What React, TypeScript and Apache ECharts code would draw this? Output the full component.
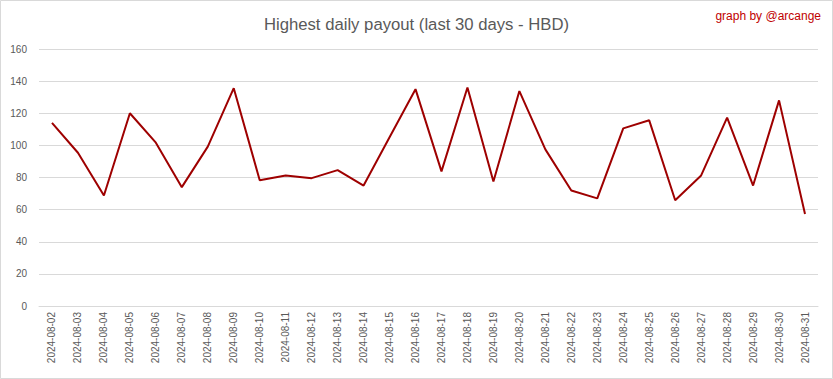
import React, { useEffect, useRef } from "react";
import * as echarts from "echarts";

const dates = [
  "2024-08-02","2024-08-03","2024-08-04","2024-08-05","2024-08-06","2024-08-07",
  "2024-08-08","2024-08-09","2024-08-10","2024-08-11","2024-08-12","2024-08-13",
  "2024-08-14","2024-08-15","2024-08-16","2024-08-17","2024-08-18","2024-08-19",
  "2024-08-20","2024-08-21","2024-08-22","2024-08-23","2024-08-24","2024-08-25",
  "2024-08-26","2024-08-27","2024-08-28","2024-08-29","2024-08-30","2024-08-31",
];
const payouts = [
  114, 95.4, 68.8, 120, 101.7, 74, 99.2, 135.6, 78.3, 81.3, 79.6, 84.6,
  75, 105, 135, 83.8, 136, 77.5, 133.8, 97.5, 71.9, 67, 110.6, 115.6,
  65.8, 81.3, 117.3, 75, 128, 57.3,
];
const yTicks = { min: 0, max: 160, interval: 20 };

export default function App() {
  const ref = useRef<HTMLDivElement>(null);
  useEffect(() => {
    document.body.style.margin = "0";
    const chart = echarts.init(ref.current!, null, { renderer: "svg" });
    const font = "Liberation Sans";
    chart.setOption({
      animation: false,
      backgroundColor: "#ffffff",
      textStyle: { fontFamily: font },
      title: [
        {
          text: "Highest daily payout (last 30 days - HBD)",
          left: "center",
          top: 11,
          textStyle: { fontFamily: font, fontSize: 16.7, fontWeight: "normal", color: "#595959" },
        },
      ],
      graphic: [
        {
          type: "rect",
          shape: { x: 0.5, y: 0.5, width: 832, height: 378 },
          style: { fill: "none", stroke: "#d9d9d9", lineWidth: 1 },
          silent: true,
        },
        {
          type: "text",
          right: 12,
          top: 10,
          style: { text: "graph by @arcange", fill: "#c00000", fontSize: 12, fontFamily: font },
        },
      ],
      grid: { left: 39, right: 15, top: 49, bottom: 73, containLabel: false },
      xAxis: {
        type: "category",
        data: dates,
        boundaryGap: true,
        axisLine: { show: true, lineStyle: { color: "#d9d9d9" } },
        axisTick: { show: false },
        axisLabel: { rotate: 90, color: "#595959", fontSize: 10, margin: 6, interval: 0, fontFamily: font },
      },
      yAxis: {
        type: "value",
        min: yTicks.min,
        max: yTicks.max,
        interval: yTicks.interval,
        axisLine: { show: false },
        axisTick: { show: false },
        splitLine: { lineStyle: { color: "#d9d9d9" } },
        axisLabel: { color: "#595959", fontSize: 10, margin: 12, fontFamily: font },
      },
      series: [
        {
          type: "line",
          data: payouts,
          symbol: "none",
          lineStyle: { color: "#9e0000", width: 2 },
          itemStyle: { color: "#9e0000" },
        },
      ],
    });
    return () => chart.dispose();
  }, []);
  return <div ref={ref} style={{ width: 833, height: 379, position: "absolute", left: 0, top: 0 }} />;
}
